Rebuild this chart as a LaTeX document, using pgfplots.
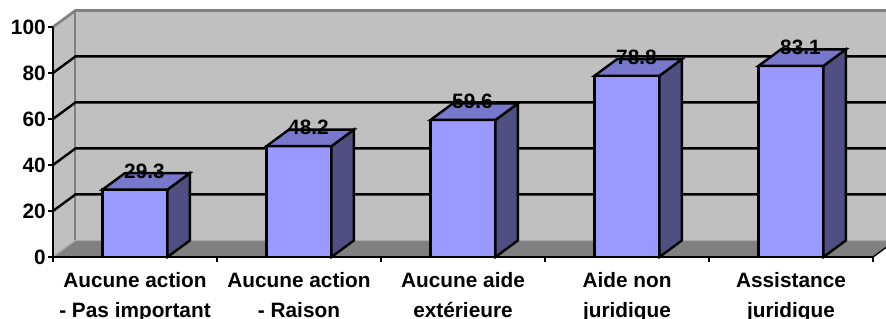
\documentclass[border=0pt]{standalone}
\usepackage{pgfplots}
\pgfplotsset{compat=1.18}
\usepackage{fontspec}
\setmainfont{Liberation Sans}
\definecolor{barfront}{HTML}{9999FF}
\definecolor{bartop}{HTML}{7777CC}
\definecolor{barside}{HTML}{4F4F82}
\definecolor{wall}{HTML}{C0C0C0}
\definecolor{floorc}{HTML}{808080}
\definecolor{edge}{HTML}{808080}
\definecolor{flooredge}{HTML}{A8A8A8}
\newcommand{\lbl}{\bfseries\fontsize{15.6}{22.5}\selectfont}
\begin{document}
\begin{tikzpicture}
\begin{axis}[
  scale only axis, width=615pt, height=172.5pt,
  xmin=0, xmax=5, ymin=0, ymax=100, clip=false, axis on top,
  axis x line*=bottom, axis y line*=left,
  axis line style={black, line width=1.8pt},
  tick align=outside, major tick length=3.75pt,
  tick style={black, line width=1.8pt},
  ytick={0,20,40,60,80,100},
  xtick={0,1,2,3,4,5}, xticklabels={},
  extra x ticks={0.5,1.5,2.5,3.5,4.5},
  extra x tick labels={{Aucune action\\- Pas important},{Aucune action\\- Raison},{Aucune aide\\extérieure},{Aide non\\juridique},{Assistance\\juridique}},
  extra x tick style={major tick length=0pt, xticklabel style={align=center, yshift=-8pt}},
  /pgf/number format/assume math mode=true,
  tick label style={font=\lbl},
  yticklabel style={xshift=1.8pt},
]
% walls and floor
\addplot[fill=wall, draw=none] coordinates {(0.137,7.2) (5.137,7.2) (5.137,107.2) (0.137,107.2)} -- cycle;
\addplot[fill=wall, draw=none] coordinates {(0,0) (0.137,7.2) (0.137,107.2) (0,100)} -- cycle;
\addplot[fill=floorc, draw=flooredge, line width=1pt] coordinates {(0,0) (5,0) (5.137,7.2) (0.137,7.2)} -- cycle;
\addplot[draw=black, line width=1pt] coordinates {(5,0) (5.137,7.2)};
% wall edges
\addplot[draw=edge, line width=2pt] coordinates {(0,100) (0.137,107.2) (5.137,107.2)};
\addplot[draw=edge, line width=1.5pt] coordinates {(0.137,107.2) (0.137,7.2)};
% gridlines
\addplot[black, line width=1.8pt] coordinates {(0,20) (0.137,27.2) (5.137,27.2)};
\addplot[black, line width=1.8pt] coordinates {(0,40) (0.137,47.2) (5.137,47.2)};
\addplot[black, line width=1.8pt] coordinates {(0,60) (0.137,67.2) (5.137,67.2)};
\addplot[black, line width=1.8pt] coordinates {(0,80) (0.137,87.2) (5.137,87.2)};
% bar front faces
\addplot[ybar, bar width=48.75pt, bar shift=0pt, fill=barfront, draw=black, line width=1.8pt]
  coordinates {(0.5,29.3) (1.5,48.2) (2.5,59.6) (3.5,78.8) (4.5,83.1)};
% side faces
\addplot[fill=barside, draw=black, line width=1.8pt] coordinates {(0.698,0) (0.835,7.2) (0.835,36.5) (0.698,29.3)} -- cycle;
\addplot[fill=barside, draw=black, line width=1.8pt] coordinates {(1.698,0) (1.835,7.2) (1.835,55.4) (1.698,48.2)} -- cycle;
\addplot[fill=barside, draw=black, line width=1.8pt] coordinates {(2.698,0) (2.835,7.2) (2.835,66.8) (2.698,59.6)} -- cycle;
\addplot[fill=barside, draw=black, line width=1.8pt] coordinates {(3.698,0) (3.835,7.2) (3.835,86.0) (3.698,78.8)} -- cycle;
\addplot[fill=barside, draw=black, line width=1.8pt] coordinates {(4.698,0) (4.835,7.2) (4.835,90.3) (4.698,83.1)} -- cycle;
% top faces
\addplot[fill=bartop, draw=black, line width=1.8pt] coordinates {(0.302,29.3) (0.698,29.3) (0.835,36.5) (0.439,36.5)} -- cycle;
\addplot[fill=bartop, draw=black, line width=1.8pt] coordinates {(1.302,48.2) (1.698,48.2) (1.835,55.4) (1.439,55.4)} -- cycle;
\addplot[fill=bartop, draw=black, line width=1.8pt] coordinates {(2.302,59.6) (2.698,59.6) (2.835,66.8) (2.439,66.8)} -- cycle;
\addplot[fill=bartop, draw=black, line width=1.8pt] coordinates {(3.302,78.8) (3.698,78.8) (3.835,86.0) (3.439,86.0)} -- cycle;
\addplot[fill=bartop, draw=black, line width=1.8pt] coordinates {(4.302,83.1) (4.698,83.1) (4.835,90.3) (4.439,90.3)} -- cycle;
% value labels
\addplot[draw=none, mark=none, nodes near coords,
  every node near coord/.append style={anchor=center, xshift=7.1pt, yshift=13.9pt, font=\lbl, text=black}]
  coordinates {(0.5,29.3) (1.5,48.2) (2.5,59.6) (3.5,78.8) (4.5,83.1)};
\coordinate (O) at (axis cs:0,0);
\end{axis}
\pgfresetboundingbox
\path[use as bounding box] (O) ++(-39.75pt,-45.75pt) rectangle ++(664.5pt,238.5pt);
\end{tikzpicture}
\end{document}
